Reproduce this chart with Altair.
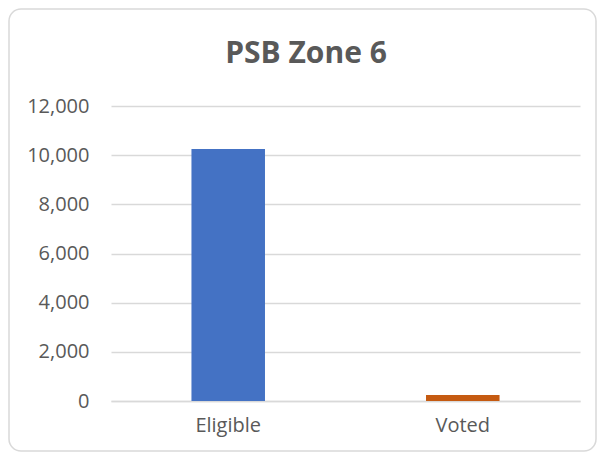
import altair as alt
import pandas as pd

categories = ["Eligible", "Voted"]
values = [10250, 240]
colors = ["#4472C4", "#C55A11"]
y_ticks = [0, 2000, 4000, 6000, 8000, 10000, 12000]
title_text = "PSB Zone 6"

df = pd.DataFrame({"category": categories, "value": values, "color": colors})
frame_df = pd.DataFrame({"k": [0]})
title_df = pd.DataFrame({"t": [title_text]})

FONT = "Open Sans"
GRAY = "#595959"

bars = alt.Chart(df).mark_bar().encode(
    x=alt.X(
        "category:N",
        sort=categories,
        title=None,
        scale=alt.Scale(paddingInner=0.6865, paddingOuter=0.343),
        axis=alt.Axis(
            labelAngle=0, labelFont=FONT, labelFontSize=20, labelColor=GRAY,
            labelPadding=14, ticks=False, domain=True, domainColor="#D9D9D9",
            domainWidth=1.5, grid=False,
        ),
    ),
    y=alt.Y(
        "value:Q",
        title=None,
        scale=alt.Scale(domain=[0, 12000]),
        axis=alt.Axis(
            values=y_ticks, format=",.0f", labelFont=FONT, labelFontSize=20,
            labelColor=GRAY, labelPadding=22, ticks=False, domain=False,
            grid=True, gridColor="#D9D9D9", gridWidth=1.5,
        ),
    ),
    color=alt.Color("color:N", scale=None, legend=None),
)

frame = alt.Chart(frame_df).mark_rect(
    fillOpacity=0, stroke="#D9D9D9", strokeWidth=1.5, cornerRadius=12
).encode(
    x=alt.value(-102), x2=alt.value(485),
    y=alt.value(-97), y2=alt.value(345),
)

title = alt.Chart(title_df).mark_text(
    font=FONT, fontSize=30, fontWeight="bold", color=GRAY,
    align="center", baseline="alphabetic",
).encode(
    text="t:N", x=alt.value(195), y=alt.value(-43),
)

chart = alt.layer(frame, bars, title).properties(
    width=469,
    height=295,
    background="white",
    padding={"left": 103, "top": 98, "right": 17, "bottom": 51},
    autosize=alt.AutoSizeParams(type="none"),
).configure_view(stroke="transparent", strokeWidth=0)

chart.save("out.html", embed_options={"renderer": "svg", "actions": False})
